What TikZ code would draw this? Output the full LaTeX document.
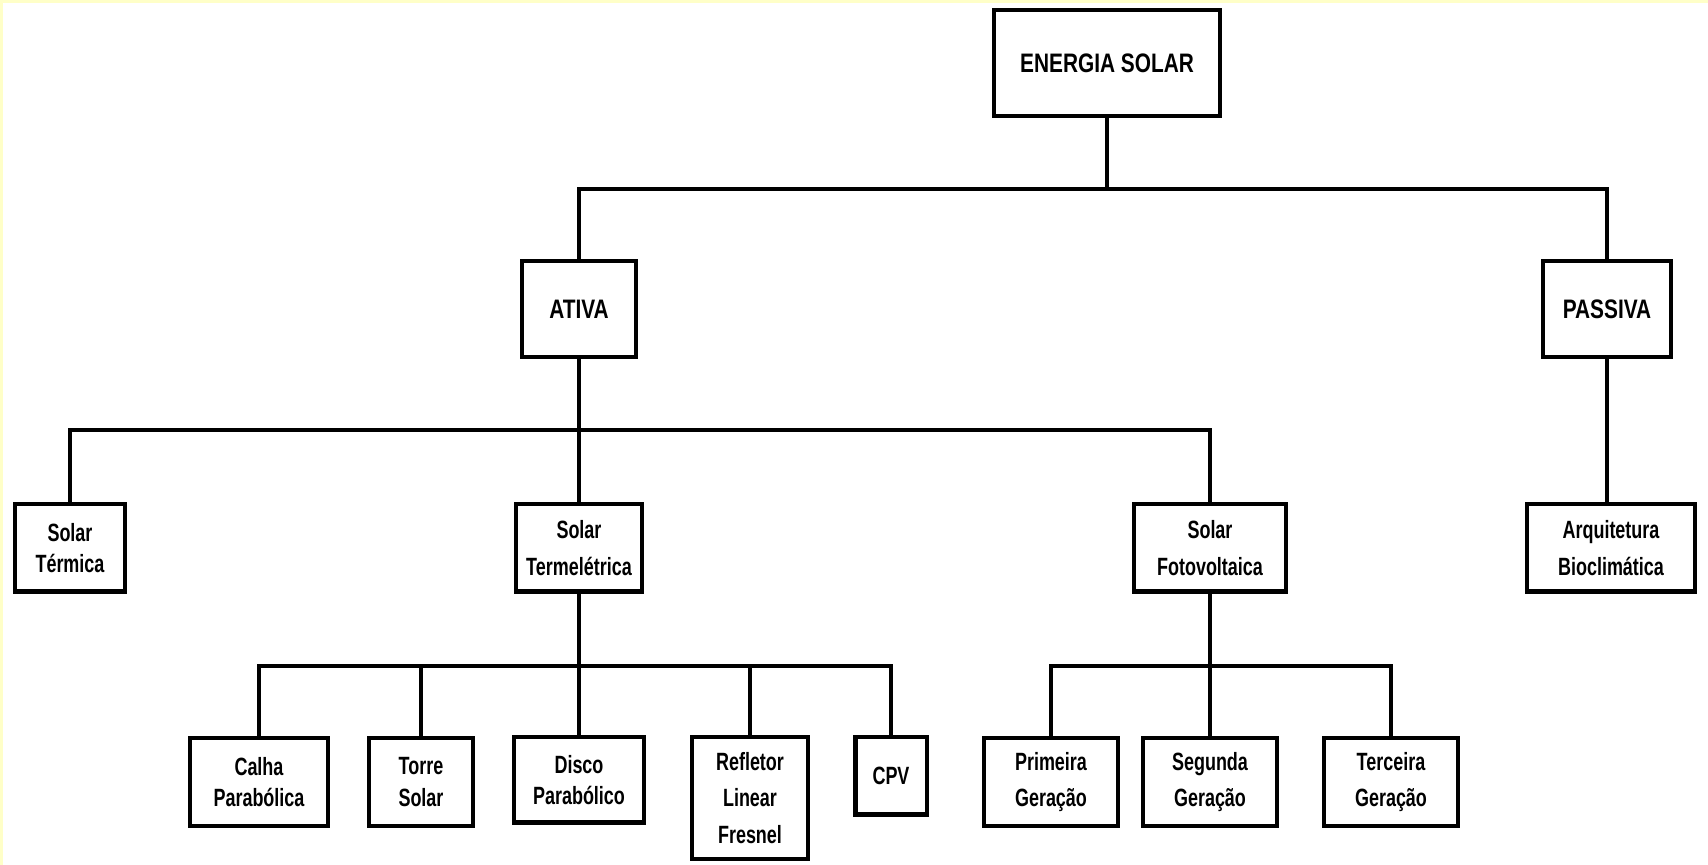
\documentclass[tikz,border=0pt]{standalone}
\usepackage{fontspec}
\setmainfont{Liberation Sans}
\newfontfamily\headfont{Liberation Sans}[FakeStretch=0.78]
\newfontfamily\leaffont{Liberation Sans}[FakeStretch=0.72]
\usetikzlibrary{calc}
\definecolor{edgeyellow}{RGB}{255,255,200}

\tikzset{
  box/.style={draw, line width=1.15pt, inner sep=0pt, align=center, fill=white},
  headbox/.style={box, font=\headfont\bfseries\fontsize{7.6}{9}\selectfont},
  leafbox/.style={box, font=\leaffont\bfseries\fontsize{7.1}{10.4}\selectfont},
  tightbox/.style={box, font=\leaffont\bfseries\fontsize{7.1}{9}\selectfont},
  link/.style={line width=1.15pt},
}

\begin{document}
\begin{tikzpicture}[x=0.01cm, y=-0.01cm]
    \useasboundingbox (0,0) rectangle (1708,865);
    % faixas amarelas da borda
    \fill[edgeyellow] (0,0) rectangle (1708,3);
    \fill[edgeyellow] (0,0) rectangle (3,865);

    % nivel 1
    \node[headbox, minimum width=2.26cm, minimum height=1.06cm] (energia) at (1107,63) {ENERGIA SOLAR};

    % nivel 2
    \node[headbox, minimum width=1.14cm, minimum height=0.96cm] (ativa) at (579,309) {ATIVA};
    \node[headbox, minimum width=1.27cm, minimum height=0.96cm] (passiva) at (1607,309) {PASSIVA};

    % nivel 3
    \node[tightbox, minimum width=1.10cm, minimum height=0.87cm] (termica) at (70,548) {Solar\\Térmica};
    \node[leafbox, minimum width=1.26cm, minimum height=0.87cm] (termel) at (579,548) {Solar\\Termelétrica};
    \node[leafbox, minimum width=1.52cm, minimum height=0.87cm] (fotov) at (1210,548) {Solar\\Fotovoltaica};
    \node[leafbox, minimum width=1.67cm, minimum height=0.87cm] (arq) at (1611,548) {Arquitetura\\Bioclimática};

    % nivel 4 - termeletrica
    \node[tightbox, minimum width=1.38cm, minimum height=0.88cm] (calha) at (259,782) {Calha\\Parabólica};
    \node[tightbox, minimum width=1.04cm, minimum height=0.88cm] (torre) at (421,782) {Torre\\Solar};
    \node[tightbox, minimum width=1.29cm, minimum height=0.85cm] (disco) at (579,780) {Disco\\Parabólico};
    \node[leafbox, minimum width=1.16cm, minimum height=1.22cm] (refletor) at (750,798) {Refletor\\Linear\\Fresnel};
    \node[leafbox, minimum width=0.71cm, minimum height=0.77cm] (cpv) at (891,776) {CPV};

    % nivel 4 - fotovoltaica
    \node[leafbox, minimum width=1.33cm, minimum height=0.88cm] (prim) at (1051,782) {Primeira\\Geração};
    \node[leafbox, minimum width=1.33cm, minimum height=0.88cm] (seg) at (1210,782) {Segunda\\Geração};
    \node[leafbox, minimum width=1.34cm, minimum height=0.88cm] (terc) at (1391,782) {Terceira\\Geração};

    % ligacoes
    \coordinate (bus1) at (energia.south |- 0,189);
    \draw[link] (energia.south) -- (bus1) -| (ativa.north);
    \draw[link] (bus1) -| (passiva.north);

    \coordinate (bus2) at (ativa.south |- 0,430);
    \draw[link] (ativa.south) -- (bus2) -| (termica.north);
    \draw[link] (bus2) -| (fotov.north);
    \draw[link] (bus2) -- (termel.north);
    \draw[link] (passiva.south) -- (passiva.south |- arq.north);

    \coordinate (bus3) at (termel.south |- 0,666);
    \draw[link] (termel.south) -- (bus3);
    \foreach \n in {calha,torre,disco,refletor,cpv}
        \draw[link] (bus3) -| (\n.north);

    \coordinate (bus4) at (fotov.south |- 0,666);
    \draw[link] (fotov.south) -- (bus4);
    \foreach \n in {prim,seg,terc}
        \draw[link] (bus4) -| (\n.north);
\end{tikzpicture}
\end{document}
